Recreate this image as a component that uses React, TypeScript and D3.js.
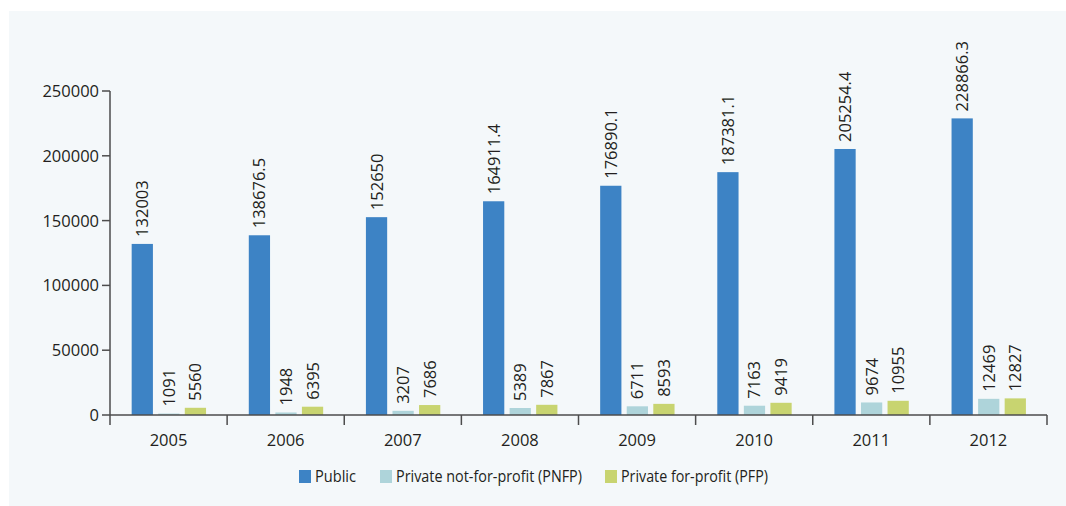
import { scaleBand, scaleLinear } from "d3";

const years = ["2005", "2006", "2007", "2008", "2009", "2010", "2011", "2012"];
const seriesNames = ["Public", "Private not-for-profit (PNFP)", "Private for-profit (PFP)"];
const publicValues = [132003, 138676.5, 152650, 164911.4, 176890.1, 187381.1, 205254.4, 228866.3];
const pnfpValues = [1091, 1948, 3207, 5389, 6711, 7163, 9674, 12469];
const pfpValues = [5560, 6395, 7686, 7867, 8593, 9419, 10955, 12827];
const yTicks = [0, 50000, 100000, 150000, 200000, 250000];
const colors = ["#3d83c5", "#aed4da", "#c8d470"];

export default function App() {
  const width = 1066;
  const height = 506;
  const left = 110;
  const right = 1047;
  const bottom = 415;
  const top = 91;
  const series = [publicValues, pnfpValues, pfpValues];

  const x0 = scaleBand().domain(years).range([left, right]).padding(0);
  const x1 = scaleBand()
    .domain(["0", "1", "2"])
    .range([x0.bandwidth() * 0.185, x0.bandwidth() * 0.82])
    .paddingInner(0.2);
  const y = scaleLinear().domain([0, 250000]).range([bottom, top]);
  const font = "'Open Sans', sans-serif";
  // legend layout: swatch x and text length as seen in the reference
  const legendX = [299, 380, 605];
  const legendLen = [41, 186, 147];

  return (
    <svg width={width} height={height} style={{ position: "absolute", left: 0, top: 0 }} fontFamily={font}>
      <rect x={9} y={11} width={width - 9} height={height - 11} fill="#f4f8fa" />
      {years.map((yr, i) => (
        <g key={yr}>
          {series.map((vals, s) => {
            const bx = (x0(yr) ?? 0) + (x1(String(s)) ?? 0);
            const bw = x1.bandwidth();
            const v = vals[i];
            return (
              <g key={s}>
                <rect x={bx} y={y(v)} width={bw} height={bottom - y(v)} fill={colors[s]} />
                <text
                  transform={`translate(${bx + bw / 2 + 6},${y(v) - 7}) rotate(-90)`}
                  fontSize={16.5}
                  fill="#231f20"
                >
                  {String(v)}
                </text>
              </g>
            );
          })}
          <text x={(x0(yr) ?? 0) + x0.bandwidth() / 2} y={bottom + 31} textAnchor="middle" fontSize={16.5} fill="#231f20">
            {yr}
          </text>
        </g>
      ))}
      <line x1={left} x2={left} y1={top} y2={bottom + 10} stroke="#4d4d4d" strokeWidth={1.5} />
      <line x1={left} x2={right} y1={bottom} y2={bottom} stroke="#4d4d4d" strokeWidth={1.5} />
      {years.map((yr) => (
        <line key={yr} x1={(x0(yr) ?? 0) + x0.bandwidth()} x2={(x0(yr) ?? 0) + x0.bandwidth()} y1={bottom} y2={bottom + 10} stroke="#4d4d4d" strokeWidth={1.5} />
      ))}
      {yTicks.map((t) => (
        <g key={t}>
          <line x1={left - 8} x2={left} y1={y(t)} y2={y(t)} stroke="#4d4d4d" strokeWidth={1.5} />
          <text x={left - 11} y={y(t) + 6} textAnchor="end" fontSize={16.5} fill="#231f20">
            {t}
          </text>
        </g>
      ))}
      {seriesNames.map((name, s) => (
        <g key={name}>
          <rect x={legendX[s]} y={470} width={12} height={13} fill={colors[s]} />
          <text
            x={legendX[s] + 16}
            y={482}
            fontSize={17}
            fill="#231f20"
            textLength={legendLen[s]}
            lengthAdjust="spacingAndGlyphs"
          >
            {name}
          </text>
        </g>
      ))}
    </svg>
  );
}
